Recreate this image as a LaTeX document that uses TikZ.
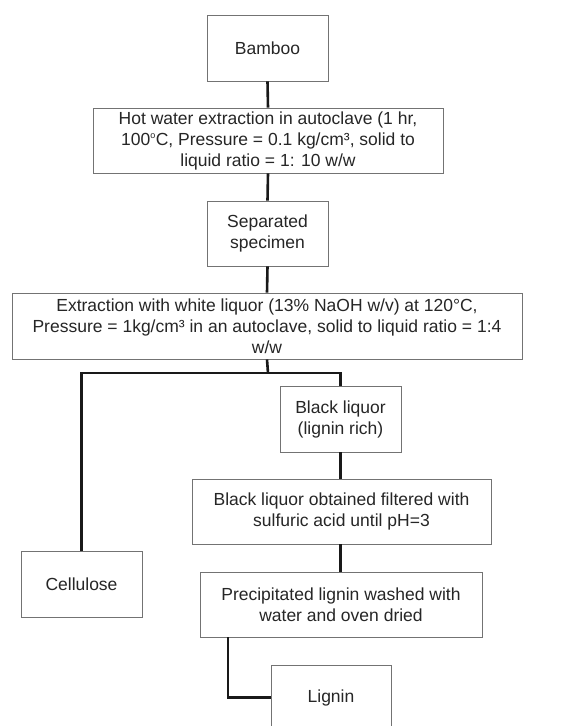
\documentclass[tikz,border=0pt]{standalone}
\usepackage{fontspec}
\setmainfont{Liberation Sans}
\begin{document}
\begin{tikzpicture}[x=1pt,y=1pt,
  box/.style={draw=black!55, line width=0.9pt, fill=white, align=center, inner sep=0pt,
    font=\fontsize{17.5}{21}\selectfont, text=black!85},
  conn/.style={draw=black!90, line width=2.6pt}]
\useasboundingbox[fill=white] (0,0) rectangle (561,-726);
\begin{scope}
\clip (0,0) rectangle (561,-726);
\node[box, minimum width=121, minimum height=66] (bamboo) at (267.5,-48) {Bamboo};
\node[box, minimum width=350, minimum height=65] (hot) at (268,-140.5)
  {Hot water extraction in autoclave (1 hr,\\100\textsuperscript{\fontsize{9}{9}\selectfont o}C, Pressure = 0.1 kg/cm³, solid to\\liquid ratio = 1: 10 w/w};
\node[box, minimum width=121, minimum height=65] (sep) at (267.5,-233.5) {Separated\\specimen};
\node[box, minimum width=510, minimum height=66] (ext) at (267,-326)
  {Extraction with white liquor (13\% NaOH w/v) at 120°C,\\Pressure = 1kg/cm³ in an autoclave, solid to liquid ratio = 1:4\\w/w};
\node[box, minimum width=121, minimum height=66] (bl) at (340.5,-419) {Black liquor\\(lignin rich)};
\node[box, minimum width=299, minimum height=65] (blo) at (341.5,-511.5)
  {Black liquor obtained filtered with\\sulfuric acid until pH=3};
\node[box, minimum width=121, minimum height=66] (cell) at (81.5,-584) {Cellulose};
\node[box, minimum width=282, minimum height=65] (prec) at (341,-604.5)
  {Precipitated lignin washed with\\water and oven dried};
\node[box, minimum width=120, minimum height=65] (lignin) at (331,-697.5) {Lignin};
\coordinate (br) at (268,-373);
\coordinate (pl) at (228,-637);
\draw[conn] (bamboo.south) -- (hot.north);
\draw[conn] (hot.south) -- (sep.north);
\draw[conn] (sep.south) -- (ext.north);
\draw[conn] (ext.south) -- (br);
\draw[conn] (cell.north) |- (br) -| (bl.north);
\draw[conn] (bl.south) -- (bl.south |- blo.north);
\draw[conn] (blo.south -| bl.south) -- (bl.south |- prec.north);
\draw[conn] (pl) |- (lignin.west);
\end{scope}
\end{tikzpicture}
\end{document}
